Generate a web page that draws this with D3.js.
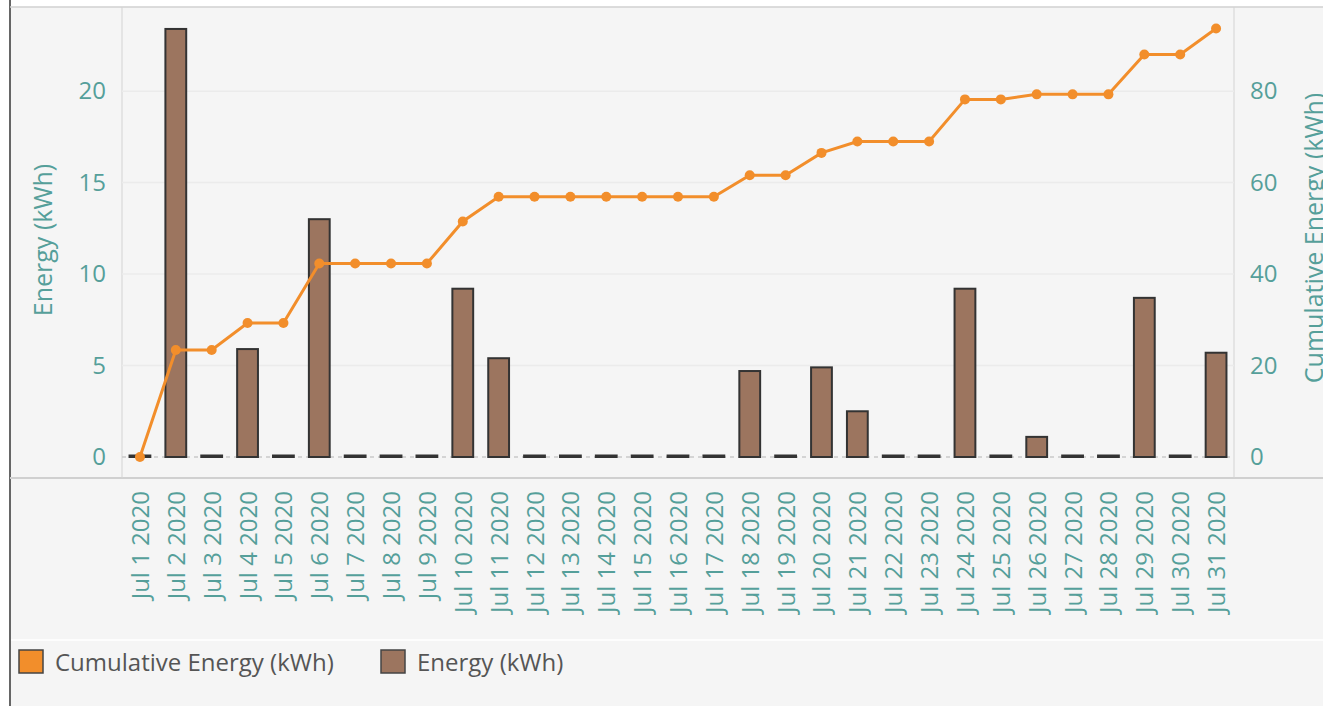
<!DOCTYPE html>
<html>
<head>
<meta charset="utf-8">
<script src="https://cdn.jsdelivr.net/npm/d3@7"></script>
<style>
  body { margin: 0; background: #fff; }
  svg { display: block; font-family: "Open Sans", sans-serif; }
</style>
</head>
<body>
<svg id="chart" width="1323" height="706"></svg>
<script>
// values
const days = d3.range(1, 32).map(d => `Jul ${d} 2020`);
const energy = [0, 23.4, 0, 5.9, 0, 13.0, 0, 0, 0, 9.2, 5.4, 0, 0, 0, 0, 0, 0, 4.7, 0, 4.9, 2.5, 0, 0, 9.2, 0, 1.1, 0, 0, 8.7, 0, 5.7];
const cumulative = [0, 23.4, 23.4, 29.3, 29.3, 42.3, 42.3, 42.3, 42.3, 51.5, 56.9, 56.9, 56.9, 56.9, 56.9, 56.9, 56.9, 61.6, 61.6, 66.5, 69.0, 69.0, 69.0, 78.2, 78.2, 79.3, 79.3, 79.3, 88.0, 88.0, 93.7];
const energyTicks = [0, 5, 10, 15, 20];
const cumTicks = [0, 20, 40, 60, 80];
const legendItems = ["Cumulative Energy (kWh)", "Energy (kWh)"];

const teal = "#559f9a";
const orange = "#f28e2b";
const brown = "#9c755f";

const svg = d3.select("#chart");
const W = 1323, H = 706;
const plot = {left: 122, right: 1234, top: 7, bottom: 478};

// backgrounds and frame
svg.append("rect").attr("x", 10).attr("y", 7).attr("width", W - 10).attr("height", H - 7).attr("fill", "#f5f5f5");
svg.append("line").attr("x1", 10).attr("x2", 10).attr("y1", 0).attr("y2", H).attr("stroke", "#666").attr("stroke-width", 2);
svg.append("line").attr("x1", 10).attr("x2", W).attr("y1", 7).attr("y2", 7).attr("stroke", "#d0d0d0").attr("stroke-width", 1.5);
svg.append("line").attr("x1", 10).attr("x2", W).attr("y1", plot.bottom).attr("y2", plot.bottom).attr("stroke", "#d0d0d0").attr("stroke-width", 2);
[plot.left, plot.right].forEach(x => {
  svg.append("line").attr("x1", x).attr("x2", x).attr("y1", 7).attr("y2", plot.bottom).attr("stroke", "#d3d3d3");
});
svg.append("line").attr("x1", 11).attr("x2", W).attr("y1", 640).attr("y2", 640).attr("stroke", "#fff").attr("stroke-width", 1.5);

const x = d3.scaleBand().domain(days).range([plot.left, plot.right]).paddingInner(0.42).paddingOuter(0.21);
const y = d3.scaleLinear().domain([0, 24.6]).range([457, 7]);
const y2 = d3.scaleLinear().domain([0, 98.4]).range([457, 7]);

// gridlines
svg.append("g").selectAll("line").data(energyTicks.filter(d => d > 0)).join("line")
  .attr("x1", plot.left).attr("x2", plot.right)
  .attr("y1", d => y(d)).attr("y2", d => y(d))
  .attr("stroke", "#ebebeb").attr("stroke-width", 1.5);
svg.append("line").attr("x1", plot.left).attr("x2", plot.right).attr("y1", y(0)).attr("y2", y(0))
  .attr("stroke", "#c9c9c9").attr("stroke-width", 1.5).attr("stroke-dasharray", "4,4");

// axes
const leftAxis = svg.append("g").attr("transform", `translate(${plot.left},0)`)
  .call(d3.axisLeft(y).tickValues(energyTicks).tickSize(0).tickPadding(16));
const rightAxis = svg.append("g").attr("transform", `translate(${plot.right},0)`)
  .call(d3.axisRight(y2).tickValues(cumTicks).tickSize(0).tickPadding(16));
[leftAxis, rightAxis].forEach(a => {
  a.select(".domain").remove();
  a.selectAll("text").attr("fill", teal).attr("font-size", 24).attr("font-family", "Open Sans");
});

const xAxis = svg.append("g").attr("transform", `translate(0,${plot.bottom})`)
  .call(d3.axisBottom(x).tickSize(0));
xAxis.select(".domain").remove();
xAxis.selectAll("text")
  .attr("fill", teal).attr("font-size", 24).attr("font-family", "Open Sans")
  .attr("text-anchor", "end").attr("dy", null).attr("y", 0)
  .attr("transform", "translate(9,13) rotate(-90)");

svg.append("text").attr("transform", "translate(52,240) rotate(-90)")
  .attr("text-anchor", "middle").attr("fill", teal).attr("font-size", 25).text("Energy (kWh)");
svg.append("text").attr("transform", "translate(1323,238) rotate(-90)")
  .attr("text-anchor", "middle").attr("fill", teal).attr("font-size", 25).text("Cumulative Energy (kWh)");

// bars
svg.append("g").selectAll("rect").data(energy).join("rect")
  .attr("x", (d, i) => x(days[i]))
  .attr("width", x.bandwidth())
  .attr("y", d => d > 0 ? y(d) : y(0) - 1.5)
  .attr("height", d => d > 0 ? y(0) - y(d) : 1.5)
  .attr("fill", brown).attr("stroke", "#333").attr("stroke-width", 2);

// cumulative line
const cx = i => x(days[i]) + x.bandwidth() / 2;
svg.append("path").datum(cumulative)
  .attr("fill", "none").attr("stroke", orange).attr("stroke-width", 3)
  .attr("d", d3.line().x((d, i) => cx(i)).y(d => y2(d)));
svg.append("g").selectAll("circle").data(cumulative).join("circle")
  .attr("cx", (d, i) => cx(i)).attr("cy", d => y2(d)).attr("r", 5).attr("fill", orange);

// legend
const legend = svg.append("g").attr("transform", "translate(19,650)");
const lx = [0, 362];
legendItems.forEach((name, i) => {
  const g = legend.append("g").attr("transform", `translate(${lx[i]},0)`);
  g.append("rect").attr("width", 24).attr("height", 23).attr("fill", i === 0 ? orange : brown)
    .attr("stroke", "#444").attr("stroke-width", 1.5);
  g.append("text").attr("x", 36).attr("y", 21).attr("fill", "#555").attr("font-size", 24).text(name);
});
</script>
</body>
</html>
